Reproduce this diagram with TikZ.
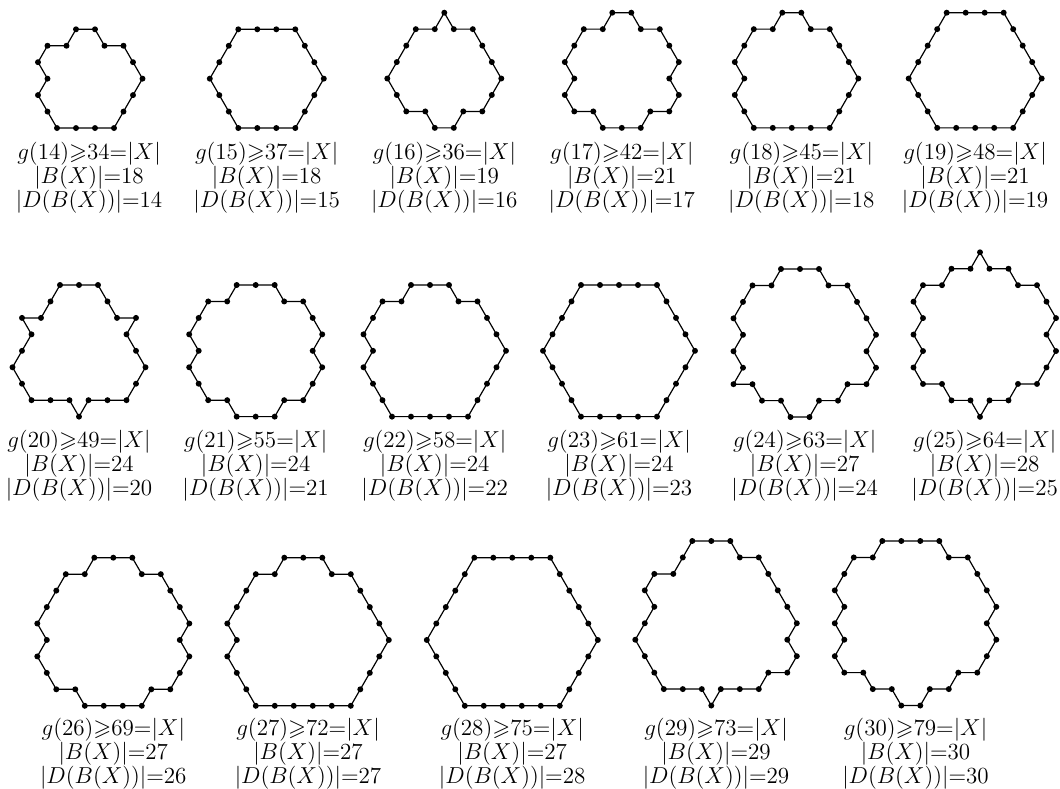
\documentclass[tikz,border=0pt]{standalone}
\usepackage{amssymb}
\definecolor{HxInk}{RGB}{0,0,0}
\tikzset{
  hx/edge/.style={
    draw=HxInk,
    line width=0.62pt,
    line join=round
  },
  hx/dot/.style={
    circle,
    fill=HxInk,
    inner sep=0pt,
    minimum size=3.1pt
  },
  hx/label/.style={
    anchor=north,
    inner sep=0pt,
    align=center,
    text=HxInk,
    font=\fontsize{12}{12.4}\selectfont
  }
}
% name, start x, start y (pixels from the top), lattice moves (k = k*60 degrees)
\newcommand{\cellring}[4]{%
  \draw[hx/edge] (#2,-#3) \foreach \m [count=\k] in {#4} { -- ++(\m*60:19) node[hx/dot] (#1-\k) {} };
}

\begin{document}
\begin{tikzpicture}[x=0.52pt,y=0.52pt]
  \useasboundingbox (0,0) rectangle (1060,-789);
  % first row
  \cellring{s14}{76}{29.3}{0,5,0,5,5,4,4,4,3,3,3,2,2,1,2,1,0,1}
  \cellring{s15}{238.3}{29.3}{0,0,0,5,5,5,4,4,4,3,3,3,2,2,2,1,1,1}
  \cellring{s16}{444.3}{12.7}{5,0,5,5,5,4,4,3,4,3,2,3,2,2,1,1,1,0,1}
  \cellring{s17}{612.3}{12.7}{0,5,0,5,5,4,5,4,3,4,3,3,2,3,2,1,2,1,1,0,1}
  \cellring{s18}{782.3}{12.7}{0,5,0,5,5,5,4,4,4,3,3,3,3,2,2,1,2,1,1,0,1}
  \cellring{s19}{946.7}{12.7}{0,0,0,5,5,5,5,4,4,4,3,3,3,3,2,2,2,1,1,1,1}
  \node[hx/label] (g14) at (89,-142) {$g(14){\geqslant}34{=}|X|$\\$|B(X)|{=}18$\\$|D(B(X))|{=}14$};
  \node[hx/label] (g15) at (266.7,-142) {$g(15){\geqslant}37{=}|X|$\\$|B(X)|{=}18$\\$|D(B(X))|{=}15$};
  \node[hx/label] (g16) at (444.3,-142) {$g(16){\geqslant}36{=}|X|$\\$|B(X)|{=}19$\\$|D(B(X))|{=}16$};
  \node[hx/label] (g17) at (621.8,-142) {$g(17){\geqslant}42{=}|X|$\\$|B(X)|{=}21$\\$|D(B(X))|{=}17$};
  \node[hx/label] (g18) at (801.3,-142) {$g(18){\geqslant}45{=}|X|$\\$|B(X)|{=}21$\\$|D(B(X))|{=}18$};
  \node[hx/label] (g19) at (975,-142) {$g(19){\geqslant}48{=}|X|$\\$|B(X)|{=}21$\\$|D(B(X))|{=}19$};
  % second row
  \cellring{s20}{60}{285}{0,0,5,5,0,4,5,5,4,4,3,3,4,2,3,3,2,2,1,1,2,0,1,1}
  \cellring{s21}{236.7}{285}{0,0,5,0,5,5,4,5,4,4,3,4,3,3,2,3,2,2,1,2,1,1,0,1}
  \cellring{s22}{411}{285}{0,0,5,0,5,5,5,4,4,4,4,3,3,3,3,2,2,2,1,2,1,1,0,1}
  \cellring{s23}{581}{285}{0,0,0,0,5,5,5,5,4,4,4,4,3,3,3,3,2,2,2,2,1,1,1,1}
  \cellring{s24}{781}{269}{0,0,5,0,5,5,5,4,5,4,3,4,3,4,3,2,3,2,3,1,2,1,2,1,1,0,1}
  \cellring{s25}{980}{252.3}{5,0,5,0,5,5,4,5,4,4,3,4,3,4,2,3,2,3,2,1,2,1,2,1,0,1,0,1}
  \node[hx/label] (g20) at (79,-430) {$g(20){\geqslant}49{=}|X|$\\$|B(X)|{=}24$\\$|D(B(X))|{=}20$};
  \node[hx/label] (g21) at (255.6,-430) {$g(21){\geqslant}55{=}|X|$\\$|B(X)|{=}24$\\$|D(B(X))|{=}21$};
  \node[hx/label] (g22) at (434.7,-430) {$g(22){\geqslant}58{=}|X|$\\$|B(X)|{=}24$\\$|D(B(X))|{=}22$};
  \node[hx/label] (g23) at (619,-430) {$g(23){\geqslant}61{=}|X|$\\$|B(X)|{=}24$\\$|D(B(X))|{=}23$};
  \node[hx/label] (g24) at (804.7,-430) {$g(24){\geqslant}63{=}|X|$\\$|B(X)|{=}27$\\$|D(B(X))|{=}24$};
  \node[hx/label] (g25) at (984.7,-430) {$g(25){\geqslant}64{=}|X|$\\$|B(X)|{=}28$\\$|D(B(X))|{=}25$};
  % third row
  \cellring{s26}{94.3}{557.7}{0,0,5,0,5,5,5,4,5,4,4,3,4,3,3,3,2,3,2,2,1,2,1,1,1,0,1}
  \cellring{s27}{284.3}{557.7}{0,0,5,0,5,5,5,5,4,4,4,4,3,3,3,3,3,2,2,2,1,2,1,1,1,0,1}
  \cellring{s28}{474.3}{557.7}{0,0,0,0,5,5,5,5,5,4,4,4,4,3,3,3,3,3,2,2,2,2,1,1,1,1,1}
  \cellring{s29}{692.3}{541}{0,0,5,0,5,5,5,5,4,5,4,3,4,3,3,4,2,3,3,2,2,2,1,1,2,1,0,1,1}
  \cellring{s30}{882.3}{541}{0,0,0,5,0,5,5,5,4,5,4,4,3,4,3,4,3,2,3,2,3,2,1,2,1,2,1,1,0,1}
  \node[hx/label] (g26) at (113.3,-718) {$g(26){\geqslant}69{=}|X|$\\$|B(X)|{=}27$\\$|D(B(X))|{=}26$};
  \node[hx/label] (g27) at (308,-718) {$g(27){\geqslant}72{=}|X|$\\$|B(X)|{=}27$\\$|D(B(X))|{=}27$};
  \node[hx/label] (g28) at (512.2,-718) {$g(28){\geqslant}75{=}|X|$\\$|B(X)|{=}27$\\$|D(B(X))|{=}28$};
  \node[hx/label] (g29) at (716,-718) {$g(29){\geqslant}73{=}|X|$\\$|B(X)|{=}29$\\$|D(B(X))|{=}29$};
  \node[hx/label] (g30) at (915.5,-718) {$g(30){\geqslant}79{=}|X|$\\$|B(X)|{=}30$\\$|D(B(X))|{=}30$};
\end{tikzpicture}
\end{document}
